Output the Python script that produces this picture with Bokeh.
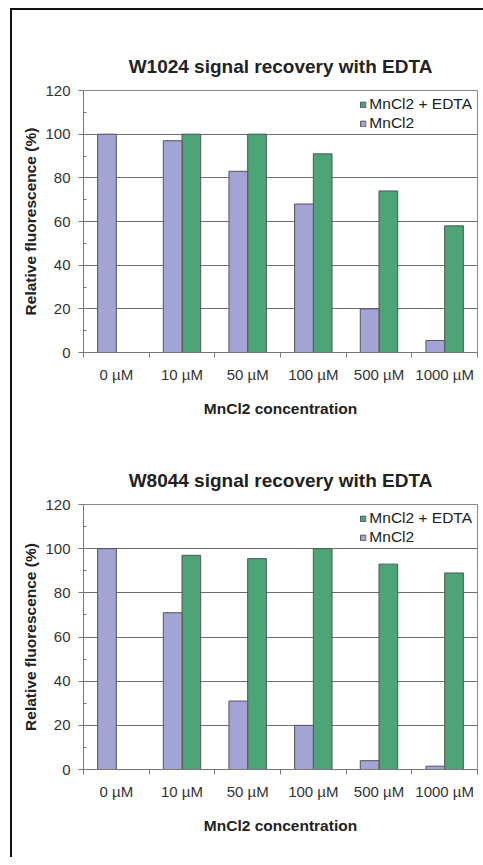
from bokeh.plotting import figure
from bokeh.layouts import column
from bokeh.models import Range1d, FixedTicker, Legend
from bokeh.embed import file_html
from bokeh.resources import INLINE

categories = ["0 µM", "10 µM", "50 µM", "100 µM", "500 µM", "1000 µM"]
w1024_mncl2 = [100, 97, 83, 68, 20, 5.5]
w1024_edta = [0, 100, 100, 91, 74, 58]
w8044_mncl2 = [100, 71, 31, 20, 4, 1.5]
w8044_edta = [0, 97, 95.5, 100, 93, 89]
y_ticks = [0, 20, 40, 60, 80, 100, 120]
y_minor = [10, 30, 50, 70, 90, 110]

PURPLE = "#A3A3D4"
GREEN = "#4CA477"
FONT = "Liberation Sans"


def make_chart(title, mncl2, edta, height, top, bottom):
    p = figure(width=471, height=height, output_backend="svg", toolbar_location=None,
               x_range=Range1d(0, len(categories)), y_range=Range1d(0, 120),
               min_border_left=71, min_border_right=6,
               min_border_top=top, min_border_bottom=bottom,
               background_fill_color="white", border_fill_color="white")
    p.title.text = title
    p.title.align = "center"
    p.title.text_font = FONT
    p.title.text_font_size = "19px"
    p.title.text_font_style = "bold"
    p.title.text_color = "#222222"
    p.title.standoff = 27

    bw = 0.285
    idx = list(range(len(categories)))
    xs_p = [i + 0.5 - bw / 2 for i in idx]
    xs_g = [i + 0.5 + bw / 2 for i in idx]
    rg = p.vbar(x=xs_g, top=edta, width=bw, fill_color=GREEN, line_color="#555555", line_width=1)
    rp = p.vbar(x=xs_p, top=mncl2, width=bw, fill_color=PURPLE, line_color="#555555", line_width=1)

    legend = Legend(items=[("MnCl2 + EDTA", [rg]), ("MnCl2", [rp])], location="top_right")
    legend.label_text_font = FONT
    legend.label_text_font_size = "15.5px"
    legend.label_text_color = "#222222"
    legend.glyph_width = 7
    legend.glyph_height = 7
    legend.label_height = 15
    legend.label_standoff = 3
    legend.spacing = 1
    legend.padding = 0
    legend.margin = 5
    legend.border_line_color = None
    legend.background_fill_alpha = 0
    p.add_layout(legend)

    # y axis
    ya = p.yaxis[0]
    ya.ticker = FixedTicker(ticks=y_ticks, minor_ticks=y_minor)
    ya.axis_label = "Relative fluorescence (%)"
    ya.axis_label_text_font = FONT
    ya.axis_label_text_font_size = "15.5px"
    ya.axis_label_text_font_style = "bold"
    ya.axis_label_text_color = "#222222"
    ya.axis_label_standoff = 3
    ya.major_label_text_font = FONT
    ya.major_label_text_font_size = "15px"
    ya.major_label_text_color = "#333333"
    ya.major_label_standoff = 8
    ya.major_tick_out = 5
    ya.major_tick_in = 0
    ya.minor_tick_in = 3
    ya.minor_tick_out = 0
    ya.axis_line_color = "#777777"
    ya.major_tick_line_color = "#777777"
    ya.minor_tick_line_color = "#777777"

    # x axis
    xa = p.xaxis[0]
    xa.ticker = FixedTicker(ticks=[i + 0.5 for i in idx], minor_ticks=list(range(len(categories) + 1)))
    xa.major_label_overrides = {i + 0.5: c for i, c in zip(idx, categories)}
    xa.axis_label = "MnCl2 concentration"
    xa.axis_label_text_font = FONT
    xa.axis_label_text_font_size = "15.5px"
    xa.axis_label_text_font_style = "bold"
    xa.axis_label_text_color = "#222222"
    xa.axis_label_standoff = 14
    xa.major_label_text_font = FONT
    xa.major_label_text_font_size = "15px"
    xa.major_label_text_color = "#333333"
    xa.major_label_standoff = 8
    xa.major_tick_out = 0
    xa.major_tick_in = 0
    xa.minor_tick_out = 5
    xa.minor_tick_in = 0
    xa.axis_line_color = "#777777"
    xa.minor_tick_line_color = "#777777"

    p.xgrid.grid_line_color = None
    p.ygrid.ticker = FixedTicker(ticks=y_ticks)
    p.ygrid.grid_line_color = "#6E6E6E"
    p.ygrid.grid_line_width = 1
    p.outline_line_color = "#888888"
    p.outline_line_width = 1
    return p


p1 = make_chart("W1024 signal recovery with EDTA", w1024_mncl2, w1024_edta, 425, 80, 83)
p2 = make_chart("W8044 signal recovery with EDTA", w8044_mncl2, w8044_edta, 422, 69, 88)

layout = column(p1, p2, spacing=0, margin=(8, 0, 0, 10),
                styles={"border-left": "2px solid #111111", "border-top": "2px solid #111111"})

open("out.html", "w").write(file_html(layout, INLINE))
